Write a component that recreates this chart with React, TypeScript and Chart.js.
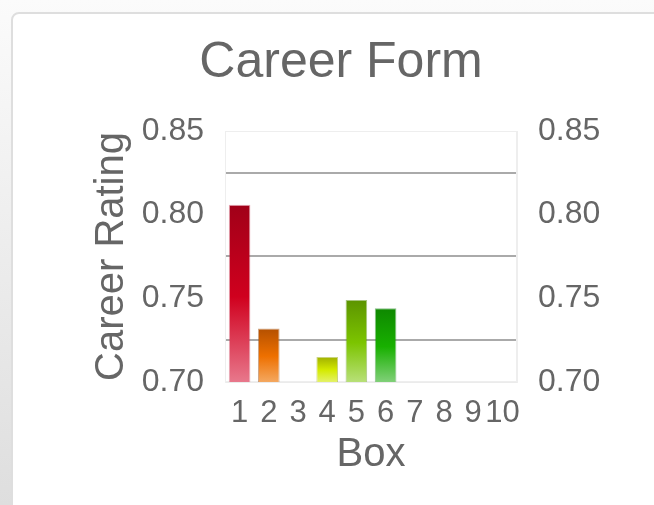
import React, { useEffect, useRef } from "react";
import { Chart, registerables } from "chart.js";

Chart.register(...registerables);

const boxes = ["1", "2", "3", "4", "5", "6", "7", "8", "9", "10"];
const ratings: (number | null)[] = [0.806, 0.732, null, 0.715, 0.749, 0.744, null, null, null, null];
const yTicks = [0.7, 0.75, 0.8, 0.85];
const topColors = ["#a00018", "#b45000", "#888", "#a0b000", "#5c9400", "#0e8800", "#888", "#888", "#888", "#888"];
const midColors = ["#d0001e", "#ee7000", "#999", "#d4ea00", "#7cc400", "#18b000", "#999", "#999", "#999", "#999"];
const bottomColors = ["#e8788c", "#f4a860", "#aaa", "#e4f268", "#b8e078", "#80d078", "#aaa", "#aaa", "#aaa", "#aaa"];
const edgeColors = ["rgba(200,60,90,0.45)", "rgba(160,80,20,0.5)", "#aaa", "rgba(150,170,0,0.5)", "rgba(80,140,0,0.5)", "rgba(20,130,20,0.5)", "#aaa", "#aaa", "#aaa", "#aaa"];

const FONT = "'Liberation Sans', Arial, Helvetica, sans-serif";
const TXT = "#666666";

const frame = {
  id: "plotFrame",
  beforeDatasetsDraw(chart: any) {
    const a = chart.chartArea;
    const c = chart.ctx;
    c.save();
    c.strokeStyle = "#eeeeee";
    c.lineWidth = 1;
    c.strokeRect(a.left + 0.5, a.top + 0.5, a.right - a.left - 1, a.bottom - a.top - 1);
    c.restore();
  },
};

export default function App() {
  const ref = useRef<HTMLCanvasElement>(null);
  useEffect(() => {
    if (!ref.current) return;
    const setTicks = (s: any) => {
      s.ticks = yTicks.map((v) => ({ value: v }));
    };
    const chart = new Chart(ref.current, {
      type: "bar",
      data: {
        labels: boxes,
        datasets: [
          {
            data: ratings as any,
            backgroundColor: (ctx: any) => {
              const ch = ctx.chart;
              const area = ch.chartArea;
              const i = ctx.dataIndex;
              if (!area || ctx.type !== "data" || ctx.raw == null) return midColors[i] || "#999";
              const top = ch.scales.y.getPixelForValue(ctx.raw);
              const g = ch.ctx.createLinearGradient(0, top, 0, area.bottom);
              g.addColorStop(0, topColors[i]);
              g.addColorStop(0.52, midColors[i]);
              g.addColorStop(1, bottomColors[i]);
              return g;
            },
            borderColor: edgeColors,
            borderWidth: 1,
            borderSkipped: false,
            barPercentage: 0.74,
            categoryPercentage: 1,
          },
        ],
      },
      options: {
        responsive: false,
        animation: false,
        plugins: {
          legend: { display: false },
          tooltip: { enabled: false },
          title: {
            display: true,
            text: "Career Form",
            color: TXT,
            font: { family: FONT, size: 50, weight: "normal" },
            padding: { top: 33, bottom: 38 },
          },
        },
        layout: { padding: 0 },
        scales: {
          x: {
            grid: { display: false },
            border: { display: true, color: "#ebebeb" },
            ticks: {
              color: TXT,
              font: { family: FONT, size: 31 },
              autoSkip: false,
              maxRotation: 0,
              minRotation: 0,
              padding: 5,
            },
            title: {
              display: true,
              text: "Box",
              color: TXT,
              font: { family: FONT, size: 40 },
              padding: { top: 0, bottom: 26 },
            },
            afterFit: (s: any) => {
              s.height = 123;
            },
          },
          y: {
            position: "left",
            min: 0.7,
            max: 0.85,
            afterBuildTicks: setTicks,
            grid: { display: true, offset: true, color: "#aaaaaa", lineWidth: 2, drawTicks: false },
            border: { display: true, color: "#eeeeee" },
            ticks: {
              color: TXT,
              font: { family: FONT, size: 32 },
              padding: 21,
              callback: (v: any) => Number(v).toFixed(2),
            },
            title: {
              display: true,
              text: "Career Rating",
              color: TXT,
              font: { family: FONT, size: 40 },
              padding: { top: 88, bottom: 0 },
            },
            afterFit: (s: any) => {
              s.width = 225;
            },
          },
          y2: {
            position: "right",
            min: 0.7,
            max: 0.85,
            afterBuildTicks: setTicks,
            grid: { display: false, drawTicks: false },
            border: { display: true, color: "#eeeeee" },
            ticks: {
              color: TXT,
              font: { family: FONT, size: 32 },
              padding: 21,
              callback: (v: any) => Number(v).toFixed(2),
            },
            afterFit: (s: any) => {
              s.width = 165;
            },
          },
        },
      },
      plugins: [frame],
    } as any);
    return () => chart.destroy();
  }, []);

  return (
    <div
      style={{
        position: "fixed",
        left: 0,
        top: 0,
        width: 654,
        height: 505,
        overflow: "hidden",
        background: "linear-gradient(180deg, #fbfbfb 0%, #dedede 100%)",
      }}
    >
      <div
        style={{
          position: "absolute",
          left: 11,
          top: 12,
          width: 720,
          height: 600,
          background: "#ffffff",
          border: "2px solid #dedede",
          borderRadius: 8,
          boxSizing: "border-box",
        }}
      />
      <canvas
        ref={ref}
        width={682}
        height={505}
        style={{ position: "absolute", left: 0, top: 0, width: 682, height: 505 }}
      />
    </div>
  );
}
